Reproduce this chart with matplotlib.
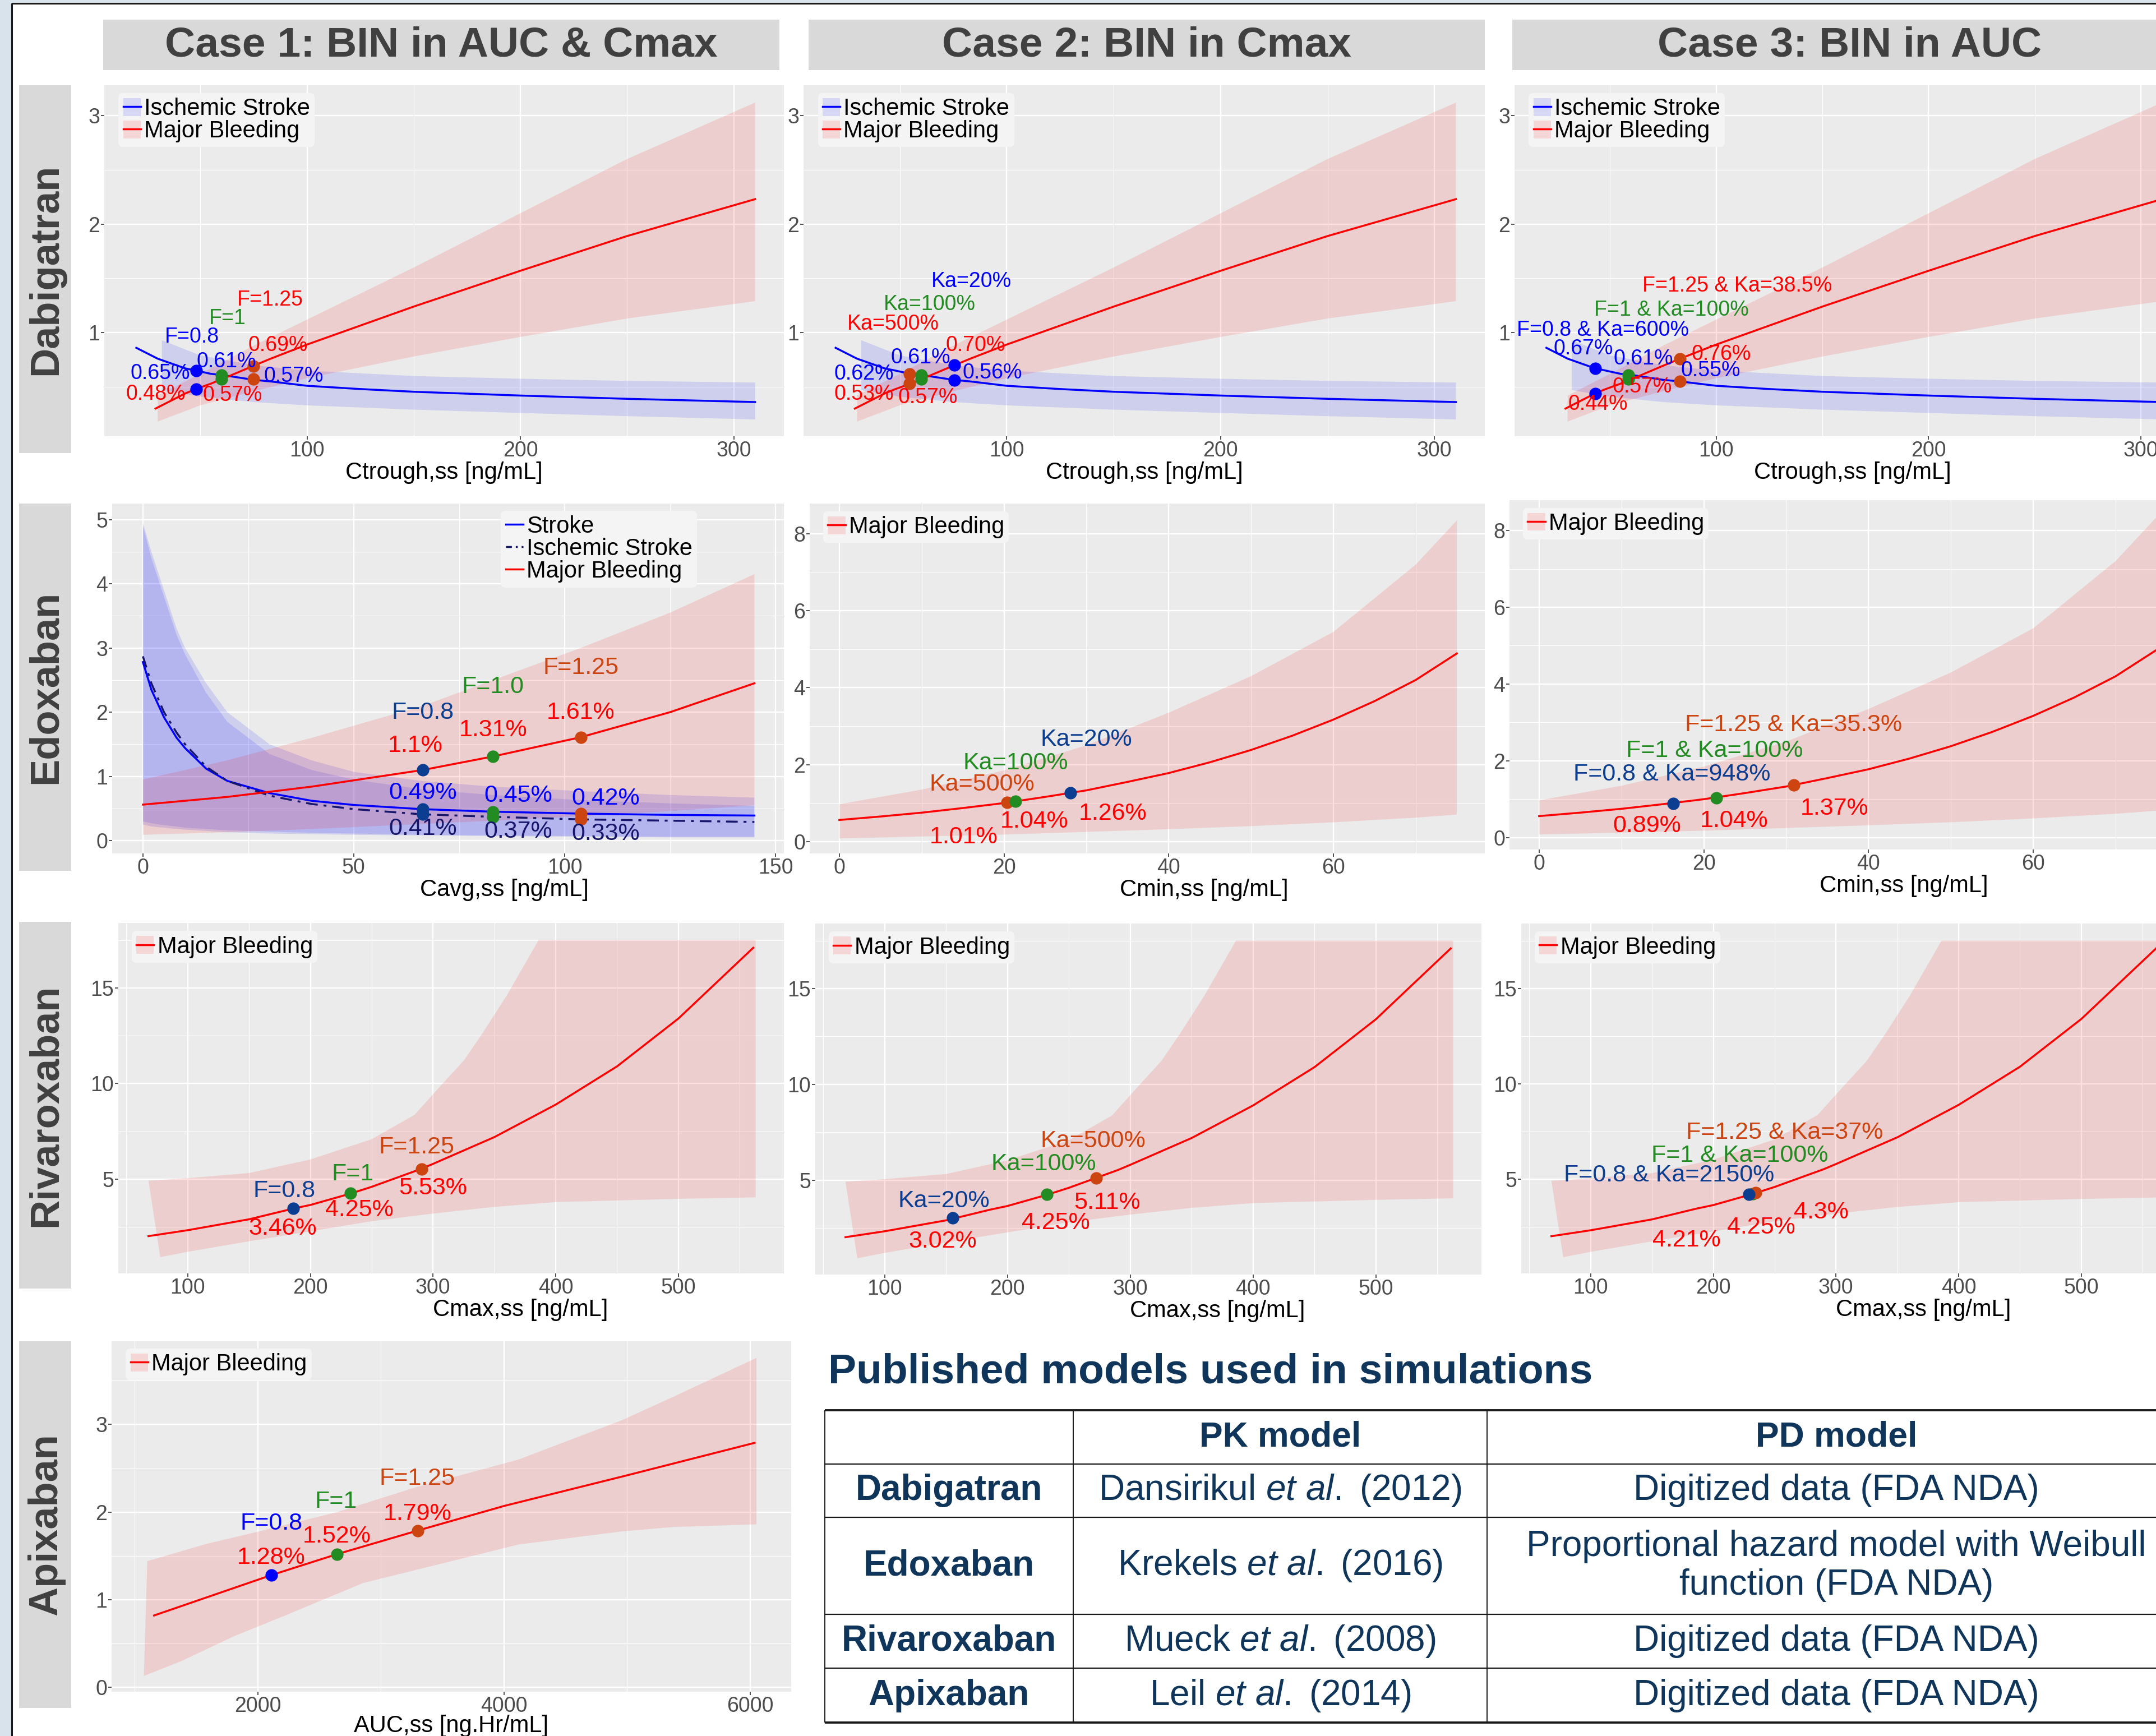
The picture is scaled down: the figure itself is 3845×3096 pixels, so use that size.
import matplotlib
matplotlib.use("Agg")
import matplotlib.pyplot as plt
from matplotlib.lines import Line2D
from matplotlib.patches import Patch, Rectangle
from matplotlib.ticker import MultipleLocator

plt.rcParams['font.family'] = ['Liberation Sans', 'DejaVu Sans']
plt.rcParams['mathtext.fontset'] = 'custom'
plt.rcParams['mathtext.rm'] = 'Liberation Sans'
plt.rcParams['mathtext.it'] = 'Liberation Sans:italic'

W, H = 3845, 3096

RED = '#ff0000'
BLUE = '#0000ff'
GREEN = '#228b22'
ORANGE = '#cc4410'
DKBLUE = '#0b3d91'
NAVY = '#16166a'
PANEL = '#ebebeb'
STRIP = '#d9d9d9'
STRIP_TXT = '#404040'
NAVY_TXT = '#0f355a'

# ---------------- Dabigatran (x = Ctrough,ss) ----------------
dab_stroke_x = [20, 30, 43, 48, 55, 60, 75, 83, 100, 125, 150, 200, 250, 310]
dab_stroke_y = [0.86, 0.76, 0.67, 0.65, 0.62, 0.61, 0.565, 0.55, 0.51, 0.48, 0.455, 0.42, 0.39, 0.36]
dab_bleed_x = [29, 43, 48, 55, 60, 75, 83, 100, 150, 200, 250, 310]
dab_bleed_y = [0.30, 0.44, 0.48, 0.53, 0.57, 0.695, 0.76, 0.89, 1.24, 1.57, 1.89, 2.23]
dab_sband_x = [32, 50, 75, 100, 150, 200, 250, 310]
dab_sband_lo = [0.47, 0.41, 0.36, 0.33, 0.29, 0.26, 0.23, 0.20]
dab_sband_hi = [0.93, 0.79, 0.70, 0.65, 0.60, 0.575, 0.555, 0.54]
dab_bband_x = [30, 50, 75, 100, 150, 200, 250, 310]
dab_bband_lo = [0.18, 0.33, 0.46, 0.58, 0.78, 0.96, 1.13, 1.29]
dab_bband_hi = [0.42, 0.62, 0.88, 1.12, 1.60, 2.10, 2.60, 3.12]

dab1_x = [48, 60, 75]
dab1_tags = ['F=0.8', 'F=1', 'F=1.25']
dab1_stroke = ['0.65%', '0.61%', '0.57%']
dab1_bleed = ['0.48%', '0.57%', '0.69%']
dab1_tag_xy = [(46, 0.96), (62.7, 1.13), (82.7, 1.30)]
dab1_stroke_xy = [(31.2, 0.625), (62.2, 0.73), (93.7, 0.60)]
dab1_bleed_xy = [(29, 0.43), (65, 0.42), (86.4, 0.88)]

dab2_x = [54.5, 60, 75.5]
dab2_tags = ['Ka=500%', 'Ka=100%', 'Ka=20%']
dab2_stroke = ['0.62%', '0.61%', '0.56%']
dab2_bleed = ['0.53%', '0.57%', '0.70%']
dab2_tag_xy = [(46.8, 1.08), (64, 1.26), (83.4, 1.47)]
dab2_stroke_xy = [(33.2, 0.62), (59.7, 0.77), (93.4, 0.63)]
dab2_bleed_xy = [(33.2, 0.43), (63, 0.40), (85.5, 0.88)]

dab3_x = [43, 58.7, 82.8]
dab3_tags = ['F=0.8 & Ka=600%', 'F=1 & Ka=100%', 'F=1.25 & Ka=38.5%']
dab3_stroke = ['0.67%', '0.61%', '0.55%']
dab3_bleed = ['0.44%', '0.57%', '0.76%']
dab3_tag_xy = [(46.6, 1.02), (78.8, 1.21), (110, 1.43)]
dab3_stroke_xy = [(37.3, 0.85), (65.6, 0.76), (97.4, 0.65)]
dab3_bleed_xy = [(44.4, 0.34), (65, 0.50), (102.4, 0.80)]

# ---------------- Edoxaban ----------------
edo_x = [0, 2, 5, 8, 10, 15, 20, 30, 40, 50, 66, 83, 104, 125, 145]
edo_stroke_y = [2.78, 2.35, 1.92, 1.6, 1.44, 1.12, 0.93, 0.74, 0.62, 0.555, 0.49, 0.45, 0.42, 0.40, 0.39]
edo_isch_y = [2.87, 2.45, 2.0, 1.68, 1.5, 1.15, 0.93, 0.70, 0.57, 0.49, 0.41, 0.37, 0.33, 0.31, 0.29]
edo_stroke_lo = [0.30, 0.27, 0.24, 0.22, 0.20, 0.18, 0.16, 0.14, 0.12, 0.11, 0.09, 0.08, 0.07, 0.06, 0.06]
edo_stroke_hi = [4.95, 4.5, 3.9, 3.3, 3.0, 2.45, 2.0, 1.5, 1.25, 1.07, 0.93, 0.84, 0.77, 0.71, 0.67]
edo_isch_lo = [0.25, 0.22, 0.20, 0.18, 0.17, 0.15, 0.13, 0.11, 0.10, 0.09, 0.08, 0.07, 0.06, 0.05, 0.05]
edo_isch_hi = [4.9, 4.4, 3.8, 3.2, 2.9, 2.3, 1.85, 1.35, 1.1, 0.95, 0.8, 0.71, 0.63, 0.58, 0.54]
edo_bleed_x = [0, 20, 40, 66.4, 83, 103.8, 125, 145]
edo_bleed_y = [0.56, 0.68, 0.84, 1.10, 1.31, 1.61, 2.0, 2.45]
edo_bleed_lo = [0.09, 0.13, 0.18, 0.26, 0.31, 0.38, 0.46, 0.55]
edo_bleed_hi = [0.95, 1.25, 1.6, 2.1, 2.5, 3.0, 3.55, 4.15]

edo1_x = [66.4, 83, 103.8]
edo1_tags = ['F=0.8', 'F=1.0', 'F=1.25']
edo1_bleed = ['1.1%', '1.31%', '1.61%']
edo1_stroke = ['0.49%', '0.45%', '0.42%']
edo1_isch = ['0.41%', '0.37%', '0.33%']
edo1_tag_xy = [(66.4, 1.99), (83, 2.39), (103.8, 2.69)]
edo1_bleed_xy = [(64.6, 1.48), (83, 1.72), (103.8, 1.99)]
edo1_stroke_xy = [(66.4, 0.74), (89, 0.70), (109.7, 0.66)]
edo1_isch_xy = [(66.4, 0.18), (89, 0.14), (109.7, 0.11)]

cmin_x = [0, 5, 10, 15, 20, 25, 30, 35, 40, 45, 50, 55, 60, 65, 70, 75]
cmin_y = [0.56, 0.65, 0.75, 0.87, 1.0, 1.16, 1.33, 1.55, 1.78, 2.06, 2.38, 2.75, 3.17, 3.65, 4.2, 4.89]
cmin_band_x = [0, 10, 20, 30, 40, 50, 60, 70, 75]
cmin_lo = [0.08, 0.13, 0.18, 0.25, 0.32, 0.40, 0.50, 0.62, 0.70]
cmin_hi = [0.97, 1.35, 1.85, 2.5, 3.35, 4.3, 5.45, 7.2, 8.35]

edo2_x = [20.4, 21.4, 28.1]
edo2_tags = ['Ka=500%', 'Ka=100%', 'Ka=20%']
edo2_bleed = ['1.01%', '1.04%', '1.26%']
edo2_tag_xy = [(17.3, 1.48), (21.4, 2.04), (30.0, 2.65)]
edo2_bleed_xy = [(15.1, 0.11), (23.7, 0.52), (33.2, 0.73)]

edo3_x = [16.3, 21.5, 30.9]
edo3_tags = ['F=0.8 & Ka=948%', 'F=1 & Ka=100%', 'F=1.25 & Ka=35.3%']
edo3_bleed = ['0.89%', '1.04%', '1.37%']
edo3_tag_xy = [(16.1, 1.64), (21.3, 2.26), (30.9, 2.93)]
edo3_bleed_xy = [(13.1, 0.30), (23.7, 0.43), (35.9, 0.75)]

# ---------------- Rivaroxaban (x = Cmax,ss) ----------------
riv_x = [68, 100, 150, 186, 200, 233, 250, 290, 300, 350, 400, 450, 500, 561]
riv_y = [2.02, 2.33, 2.9, 3.46, 3.65, 4.25, 4.6, 5.53, 5.8, 7.2, 8.9, 10.9, 13.4, 17.1]
riv_hi_x = [68, 100, 150, 200, 250, 285, 305, 325, 340, 360, 386, 563]
riv_hi = [4.92, 5.05, 5.32, 6.03, 7.09, 8.37, 9.8, 11.2, 12.6, 14.6, 17.5, 17.5]
riv_lo_x = [77.6, 100, 150, 200, 250, 300, 350, 400, 500, 563]
riv_lo = [0.92, 1.2, 1.75, 2.27, 2.8, 3.2, 3.55, 3.8, 3.97, 4.05]

riv1_x = [186, 232.7, 290.6]
riv1_tags = ['F=0.8', 'F=1', 'F=1.25']
riv1_bleed = ['3.46%', '4.25%', '5.53%']
riv1_tag_xy = [(178.7, 4.39), (234.7, 5.25), (286.6, 6.67)]
riv1_bleed_xy = [(177.6, 2.43), (240, 3.37), (300, 4.53)]

riv2_x = [155.4, 232, 272.2]
riv2_tags = ['Ka=20%', 'Ka=100%', 'Ka=500%']
riv2_bleed = ['3.02%', '4.25%', '5.11%']
riv2_tag_xy = [(148.1, 3.92), (229.5, 5.84), (269.5, 7.05)]
riv2_bleed_xy = [(147, 1.81), (239.3, 2.76), (281.3, 3.82)]

riv3_x = [229.2, 232, 234.4]
riv3_tags = ['F=0.8 & Ka=2150%', 'F=1 & Ka=100%', 'F=1.25 & Ka=37%']
riv3_bleed = ['4.21%', '4.25%', '4.3%']
riv3_tag_xy = [(163.9, 5.22), (221.5, 6.24), (258.2, 7.45)]
riv3_bleed_xy = [(178, 1.81), (239, 2.47), (288, 3.26)]

# ---------------- Apixaban (x = AUC,ss) ----------------
apx_x = [1158, 2109, 2644, 3301, 4000, 5000, 6034]
apx_y = [0.82, 1.28, 1.52, 1.79, 2.07, 2.42, 2.79]
apx_hi_x = [1103, 1591, 2013, 2644, 3276, 4118, 4960, 5381, 6050]
apx_hi = [1.44, 1.64, 1.78, 2.0, 2.28, 2.6, 3.05, 3.32, 3.76]
apx_lo_x = [1075, 1381, 1802, 2223, 2855, 3486, 4118, 4960, 5381, 6050]
apx_lo = [0.13, 0.30, 0.58, 0.82, 1.19, 1.41, 1.63, 1.78, 1.83, 1.86]

apx1_x = [2109, 2644, 3301]
apx1_tags = ['F=0.8', 'F=1', 'F=1.25']
apx1_bleed = ['1.28%', '1.52%', '1.79%']
apx1_tag_xy = [(2109, 1.87), (2636, 2.12), (3297, 2.38)]
apx1_bleed_xy = [(2109, 1.48), (2644, 1.72), (3297, 1.98)]

# ---------------- strips and table ----------------
case_titles = ['Case 1: BIN in AUC & Cmax', 'Case 2: BIN in Cmax', 'Case 3: BIN in AUC']
drugs = ['Dabigatran', 'Edoxaban', 'Rivaroxaban', 'Apixaban']
pk_models = ['Dansirikul $\\mathit{et\\ al.}$ (2012)', 'Krekels $\\mathit{et\\ al.}$ (2016)',
             'Mueck $\\mathit{et\\ al.}$ (2008)', 'Leil $\\mathit{et\\ al.}$ (2014)']
pd_models = ['Digitized data (FDA NDA)', 'Proportional hazard model with Weibull\nfunction (FDA NDA)',
             'Digitized data (FDA NDA)', 'Digitized data (FDA NDA)']


def pct(s):
    return float(s.rstrip('%'))


fig = plt.figure(figsize=(W / 100, H / 100), dpi=100)


def fx(x):
    return x / W


def fy(y):
    return 1 - y / H


def add_box(x0, y0, x1, y1, color):
    fig.add_artist(Rectangle((fx(x0), fy(y1)), (x1 - x0) / W, (y1 - y0) / H,
                             transform=fig.transFigure, facecolor=color,
                             edgecolor='none', zorder=0))


def add_line(xs, ys, lw, color='#1a1a1a'):
    fig.add_artist(Line2D([fx(v) for v in xs], [fy(v) for v in ys],
                          transform=fig.transFigure, color=color, lw=lw,
                          solid_capstyle='butt'))


def base_panel(pos, xlim, ylim, xstep, ystep, xlabel, lab_x, lab_gap=45):
    x0, y0, x1, y1 = pos
    ax = fig.add_axes([fx(x0), fy(y1), (x1 - x0) / W, (y1 - y0) / H])
    ax.set_facecolor(PANEL)
    ax.set_xlim(xlim)
    ax.set_ylim(ylim)
    ax.xaxis.set_major_locator(MultipleLocator(xstep))
    ax.xaxis.set_minor_locator(MultipleLocator(xstep / 2))
    ax.yaxis.set_major_locator(MultipleLocator(ystep))
    ax.yaxis.set_minor_locator(MultipleLocator(ystep / 2))
    ax.grid(True, which='major', color='white', lw=1.7)
    ax.grid(True, which='minor', color='white', lw=0.8)
    ax.set_axisbelow(True)
    for sp in ax.spines.values():
        sp.set_visible(False)
    ax.tick_params(which='major', length=4, width=1.2, color='#333333',
                   labelsize=27, labelcolor='#4d4d4d', pad=1.5)
    ax.tick_params(which='minor', length=0)
    ax.set_xlabel(xlabel, fontsize=30, color='black')
    # x title sits lab_gap px under the panel
    ax.xaxis.set_label_coords(lab_x, -lab_gap / (y1 - y0))
    return ax


def ribbon(ax, xh, yh, xl, yl, color, alpha=0.12):
    ax.fill(list(xh) + list(xl)[::-1], list(yh) + list(yl)[::-1],
            color=color, alpha=alpha, lw=0, zorder=1)


def dots(ax, xs, vals, colors, zs=None):
    for i, (x, v, c) in enumerate(zip(xs, vals, colors)):
        z = 4 if zs is None else zs[i]
        ax.plot([x], [pct(v)], 'o', ms=16, color=c, mec='none', zorder=z)


def labels(ax, xy, texts, colors, fs):
    for (x, y), t, c in zip(xy, texts, colors):
        ax.text(x, y, t, color=c, fontsize=fs, ha='center', va='center', zorder=6)


def legend(ax, handles, names, loc, anchor):
    leg = ax.legend(handles, names, loc=loc, bbox_to_anchor=anchor, borderaxespad=0,
                    fontsize=30, frameon=True, facecolor='#f4f4f4', edgecolor='none',
                    framealpha=1, handlelength=0.75, handleheight=0.8,
                    handletextpad=0.15, labelspacing=0.0, borderpad=0.2)
    leg.set_zorder(7)


def key(color, alpha=0.12, ls='-'):
    return (Patch(facecolor=color, alpha=alpha, lw=0), Line2D([], [], color=color, lw=2.5, ls=ls))


bleed_key = key(RED)

# ---- Dabigatran row ----
dab_pos = [(186, 152, 1398, 778), (1433, 152, 2648, 778), (2701, 152, 3907, 778)]
dab_sets = [
    (dab1_x, dab1_tags, dab1_stroke, dab1_bleed, dab1_tag_xy, dab1_stroke_xy, dab1_bleed_xy,
     [BLUE, GREEN, ORANGE], [BLUE, GREEN, RED]),
    (dab2_x, dab2_tags, dab2_stroke, dab2_bleed, dab2_tag_xy, dab2_stroke_xy, dab2_bleed_xy,
     [ORANGE, GREEN, BLUE], [RED, GREEN, BLUE]),
    (dab3_x, dab3_tags, dab3_stroke, dab3_bleed, dab3_tag_xy, dab3_stroke_xy, dab3_bleed_xy,
     [BLUE, GREEN, ORANGE], [BLUE, GREEN, RED]),
]
for pos, (xs, tags, st, bl, txy, sxy, bxy, dcol, tcol) in zip(dab_pos, dab_sets):
    ax = base_panel(pos, (5, 323.5), (0.045, 3.28), 100, 1, 'Ctrough,ss [ng/mL]', 0.5)
    ribbon(ax, dab_sband_x, dab_sband_hi, dab_sband_x, dab_sband_lo, BLUE)
    ribbon(ax, dab_bband_x, dab_bband_hi, dab_bband_x, dab_bband_lo, RED)
    ax.plot(dab_stroke_x, dab_stroke_y, color=BLUE, lw=2.5, zorder=3)
    ax.plot(dab_bleed_x, dab_bleed_y, color=RED, lw=2.5, zorder=3)
    dots(ax, xs, st, dcol)
    dots(ax, xs, bl, dcol)
    labels(ax, txy, tags, tcol, 27)
    labels(ax, sxy, st, [BLUE] * 3, 27)
    labels(ax, bxy, bl, [RED] * 3, 27)
    legend(ax, [key(BLUE), bleed_key], ['Ischemic Stroke', 'Major Bleeding'],
           'upper left', (0.021, 0.978))

# ---- Edoxaban row ----
ax = base_panel((200, 898, 1398, 1522), (-7.3, 152), (-0.2, 5.25), 50, 1,
                'Cavg,ss [ng/mL]', 0.584)
ribbon(ax, edo_x, edo_stroke_hi, edo_x, edo_stroke_lo, BLUE)
ribbon(ax, edo_x, edo_isch_hi, edo_x, edo_isch_lo, BLUE)
ribbon(ax, edo_bleed_x, edo_bleed_hi, edo_bleed_x, edo_bleed_lo, RED)
ax.plot(edo_x, edo_stroke_y, color=BLUE, lw=2.5, zorder=3)
ax.plot(edo_x, edo_isch_y, color=NAVY, lw=2.5, ls=(0, (6, 3, 1.5, 3)), zorder=3)
ax.plot(edo_bleed_x, edo_bleed_y, color=RED, lw=2.5, zorder=3)
edo_cols = [DKBLUE, GREEN, ORANGE]
dots(ax, edo1_x, edo1_bleed, edo_cols)
dots(ax, edo1_x, edo1_stroke, edo_cols)
dots(ax, edo1_x, edo1_isch, edo_cols)
labels(ax, edo1_tag_xy, edo1_tags, edo_cols, 31)
labels(ax, edo1_bleed_xy, edo1_bleed, [RED] * 3, 31)
labels(ax, edo1_stroke_xy, edo1_stroke, [BLUE] * 3, 31)
labels(ax, edo1_isch_xy, edo1_isch, [NAVY] * 3, 31)
legend(ax, [Line2D([], [], color=BLUE, lw=2.5),
            Line2D([], [], color=NAVY, lw=2.5, ls=(0, (3, 2, 1, 2))),
            Line2D([], [], color=RED, lw=2.5)],
       ['Stroke', 'Ischemic Stroke', 'Major Bleeding'], 'upper right', (0.871, 0.979))

edo_pos = [(1444, 898, 2648, 1522), (2692, 892, 3896, 1515)]
edo_sets = [
    (edo2_x, edo2_tags, edo2_bleed, edo2_tag_xy, edo2_bleed_xy, [ORANGE, GREEN, DKBLUE]),
    (edo3_x, edo3_tags, edo3_bleed, edo3_tag_xy, edo3_bleed_xy, [DKBLUE, GREEN, ORANGE]),
]
for pos, (xs, tags, bl, txy, bxy, cols) in zip(edo_pos, edo_sets):
    ax = base_panel(pos, (-3.6, 78.4), (-0.31, 8.79), 20, 2, 'Cmin,ss [ng/mL]', 0.584)
    ribbon(ax, cmin_band_x, cmin_hi, cmin_band_x, cmin_lo, RED)
    ax.plot(cmin_x, cmin_y, color=RED, lw=2.5, zorder=3)
    dots(ax, xs, bl, cols)
    labels(ax, txy, tags, cols, 31)
    labels(ax, bxy, bl, [RED] * 3, 31)
    legend(ax, [bleed_key], ['Major Bleeding'], 'upper left', (0.02, 0.978))

# ---- Rivaroxaban row ----
riv_pos = [(211, 1646, 1398, 2271), (1454, 1647, 2642, 2273), (2713, 1647, 3900, 2271)]
riv_sets = [
    (riv1_x, riv1_tags, riv1_bleed, riv1_tag_xy, riv1_bleed_xy, [DKBLUE, GREEN, ORANGE], None),
    (riv2_x, riv2_tags, riv2_bleed, riv2_tag_xy, riv2_bleed_xy, [DKBLUE, GREEN, ORANGE], None),
    (riv3_x, riv3_tags, riv3_bleed, riv3_tag_xy, riv3_bleed_xy, [DKBLUE, GREEN, ORANGE], [4.3, 4.1, 4.2]),
]
for pos, (xs, tags, bl, txy, bxy, cols, zs) in zip(riv_pos, riv_sets):
    ax = base_panel(pos, (43.4, 586), (0.07, 18.4), 100, 5, 'Cmax,ss [ng/mL]', 0.604)
    ribbon(ax, riv_hi_x, riv_hi, riv_lo_x, riv_lo, RED)
    ax.plot(riv_x, riv_y, color=RED, lw=2.5, zorder=3)
    dots(ax, xs, bl, cols, zs)
    labels(ax, txy, tags, cols, 31)
    labels(ax, bxy, bl, [RED] * 3, 31)
    legend(ax, [bleed_key], ['Major Bleeding'], 'upper left', (0.02, 0.977))

# ---- Apixaban ----
ax = base_panel((199, 2392, 1411, 3017), (813, 6332), (-0.05, 3.95), 2000, 1,
                'AUC,ss [ng.Hr/mL]', 0.5, lab_gap=41)
ribbon(ax, apx_hi_x, apx_hi, apx_lo_x, apx_lo, RED)
ax.plot(apx_x, apx_y, color=RED, lw=2.5, zorder=3)
dots(ax, apx1_x, apx1_bleed, [BLUE, GREEN, ORANGE])
labels(ax, apx1_tag_xy, apx1_tags, [BLUE, GREEN, ORANGE], 31)
labels(ax, apx1_bleed_xy, apx1_bleed, [RED] * 3, 31)
legend(ax, [bleed_key], ['Major Bleeding'], 'upper left', (0.021, 0.979))

# ---- column and row strips ----
col_strips = [(184, 1390), (1442, 2648), (2697, 3900)]
for (x0, x1), title in zip(col_strips, case_titles):
    add_box(x0, 35, x1, 125, STRIP)
    fig.text(fx((x0 + x1) / 2), fy(81), title, ha='center', va='center',
             fontsize=54, fontweight='bold', color=STRIP_TXT)

row_strips = [(152, 808), (898, 1553), (1644, 2298), (2392, 3046)]
for (y0, y1), name in zip(row_strips, drugs):
    add_box(34, y0, 127, y1, STRIP)
    fig.text(fx(82), fy((y0 + y1) / 2), name, ha='center', va='center', rotation=90,
             fontsize=52, fontweight='bold', color=STRIP_TXT)

# ---- frame on the left and top ----
add_box(0, 0, 20, H, '#d8e3eb')
add_box(0, 0, W, 5, '#d8e3eb')
add_line([21, 21], [6, H], 2.2)
add_line([20, W], [6, 6], 2.2)

# ---- models table ----
fig.text(fx(1477), fy(2447), 'Published models used in simulations', ha='left', va='center',
         fontsize=54, fontweight='bold', color=NAVY_TXT)
row_edges = [2515, 2611, 2706, 2879, 2975, 3072]
for i, y in enumerate(row_edges):
    add_line([1471, W + 10], [y, y], 2.8 if i in (0, len(row_edges) - 1) else 1.6)
for x in [1471, 1914, 2652]:
    add_line([x, x], [row_edges[0], row_edges[-1]], 1.4)

fig.text(fx(2283), fy(2563), 'PK model', ha='center', va='center', fontsize=45,
         fontweight='bold', color=NAVY_TXT)
fig.text(fx(3275), fy(2563), 'PD model', ha='center', va='center', fontsize=45,
         fontweight='bold', color=NAVY_TXT)
for i, (name, pk, pd) in enumerate(zip(drugs, pk_models, pd_models)):
    yc = (row_edges[i + 1] + row_edges[i + 2]) / 2
    fig.text(fx(1692), fy(yc), name, ha='center', va='center', fontsize=46,
             fontweight='bold', color=NAVY_TXT)
    fig.text(fx(2283), fy(yc), pk, ha='center', va='center', fontsize=46, color=NAVY_TXT)
    fig.text(fx(3275), fy(yc), pd, ha='center', va='center', fontsize=46, color=NAVY_TXT,
             linespacing=1.2, multialignment='center')

fig.savefig('out.png', dpi=100)
